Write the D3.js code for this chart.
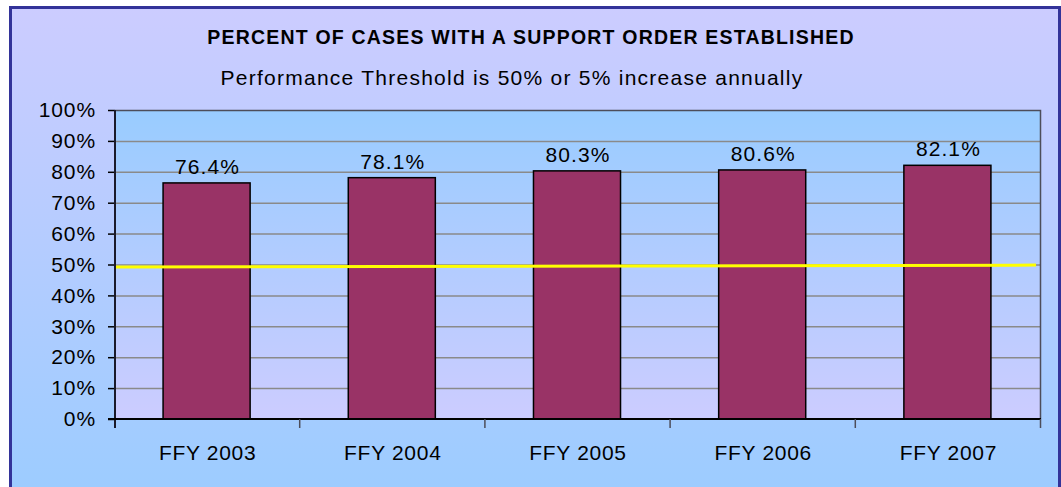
<!DOCTYPE html>
<html>
<head>
<meta charset="utf-8">
<script src="https://cdn.jsdelivr.net/npm/d3@7/dist/d3.min.js"></script>
<style>
  html, body { margin: 0; padding: 0; background: #fff; }
  svg { display: block; font-family: Arial, "Liberation Sans", sans-serif; }
</style>
</head>
<body>
<div id="chart"></div>
<script>
// chart data
const years = ['FFY 2003', 'FFY 2004', 'FFY 2005', 'FFY 2006', 'FFY 2007'];
const percents = [76.4, 78.1, 80.3, 80.6, 82.1];
const thresholdEnds = [49.2, 49.8];
const yTicks = [0, 10, 20, 30, 40, 50, 60, 70, 80, 90, 100];
const titleText = 'PERCENT OF CASES WITH A SUPPORT ORDER ESTABLISHED';
const subtitleText = 'Performance Threshold is 50% or 5% increase annually';

const width = 1061, height = 487;
const plot = {left: 115, right: 1041, top: 110, bottom: 419};
const labelSize = 21;

const svg = d3.select('#chart').append('svg')
  .attr('width', width)
  .attr('height', height);

const defs = svg.append('defs');
const outerGrad = defs.append('linearGradient')
  .attr('id', 'outerGrad').attr('x1', 0).attr('y1', 0).attr('x2', 0).attr('y2', 1);
outerGrad.append('stop').attr('offset', '0%').attr('stop-color', '#ccccff');
outerGrad.append('stop').attr('offset', '100%').attr('stop-color', '#99ccff');

const plotGrad = defs.append('linearGradient')
  .attr('id', 'plotGrad').attr('x1', 0).attr('y1', 0).attr('x2', 0).attr('y2', 1);
plotGrad.append('stop').attr('offset', '0%').attr('stop-color', '#99ccff');
plotGrad.append('stop').attr('offset', '100%').attr('stop-color', '#ccccff');

// outer frame
svg.append('rect')
  .attr('x', 10.5).attr('y', 7.5)
  .attr('width', 1049).attr('height', 520)
  .attr('fill', 'url(#outerGrad)')
  .attr('stroke', '#333399')
  .attr('stroke-width', 3);

// titles
svg.append('text')
  .attr('x', 531).attr('y', 44)
  .attr('text-anchor', 'middle')
  .attr('font-size', 19.5).attr('font-weight', 'bold')
  .attr('letter-spacing', '1.2px')
  .attr('fill', '#000')
  .text(titleText);

svg.append('text')
  .attr('x', 512).attr('y', 85)
  .attr('text-anchor', 'middle')
  .attr('font-size', labelSize)
  .attr('letter-spacing', '1.25px')
  .attr('fill', '#000')
  .text(subtitleText);

// scales
const xScale = d3.scaleBand()
  .domain(years)
  .range([plot.left, plot.right])
  .paddingInner(0.53)
  .paddingOuter(0.265);

const yScale = d3.scaleLinear()
  .domain([0, 100])
  .range([plot.bottom, plot.top]);

// plot background
svg.append('rect')
  .attr('x', plot.left).attr('y', plot.top)
  .attr('width', plot.right - plot.left)
  .attr('height', plot.bottom - plot.top)
  .attr('fill', 'url(#plotGrad)');

// gridlines
svg.append('g')
  .selectAll('line')
  .data(yTicks.filter(d => d > 0 && d < 100))
  .enter().append('line')
  .attr('x1', plot.left).attr('x2', plot.right)
  .attr('y1', d => yScale(d) + 0.5).attr('y2', d => yScale(d) + 0.5)
  .attr('stroke', '#8a8a8a')
  .attr('stroke-width', 1.5);

// plot border (top and right)
svg.append('path')
  .attr('d', `M${plot.left},${plot.top + 0.5}H${plot.right - 0.5}V${plot.bottom}`)
  .attr('fill', 'none')
  .attr('stroke', '#4d4d5a')
  .attr('stroke-width', 1.5);

// bars
svg.append('g')
  .selectAll('rect')
  .data(percents)
  .enter().append('rect')
  .attr('x', (d, i) => xScale(years[i]) - 1)
  .attr('y', d => yScale(d))
  .attr('width', xScale.bandwidth())
  .attr('height', d => yScale(0) - yScale(d))
  .attr('fill', '#993366')
  .attr('stroke', '#000')
  .attr('stroke-width', 1.5);

// value labels
svg.append('g')
  .selectAll('text')
  .data(percents)
  .enter().append('text')
  .attr('x', (d, i) => xScale(years[i]) + xScale.bandwidth() / 2)
  .attr('y', d => yScale(d) - 9)
  .attr('text-anchor', 'middle')
  .attr('font-size', labelSize)
  .attr('letter-spacing', '1.1px')
  .attr('fill', '#000')
  .text(d => d.toFixed(1) + '%');

// threshold line
const tScale = d3.scaleLinear().domain([0, 1]).range([plot.left, plot.right - 5]);
svg.append('line')
  .attr('x1', tScale(0)).attr('x2', tScale(1))
  .attr('y1', yScale(thresholdEnds[0])).attr('y2', yScale(thresholdEnds[1]))
  .attr('stroke', '#ffff00')
  .attr('stroke-width', 3);

// y axis
const yAxis = d3.axisLeft(yScale)
  .tickValues(yTicks)
  .tickSize(7)
  .tickPadding(12)
  .tickFormat(d => d + '%');

const yG = svg.append('g')
  .attr('transform', `translate(${plot.left},0)`)
  .call(yAxis);
yG.select('.domain').remove();
yG.selectAll('.tick line').attr('stroke', '#000').attr('stroke-width', 1.5);
yG.selectAll('.tick text')
  .attr('font-size', labelSize)
  .attr('letter-spacing', '0.9px')
  .attr('font-family', 'Arial, "Liberation Sans", sans-serif')
  .attr('fill', '#000');
yG.append('line')
  .attr('x1', 0).attr('x2', 0)
  .attr('y1', plot.top).attr('y2', plot.bottom + 9)
  .attr('stroke', '#1a1a2a').attr('stroke-width', 2);

// x axis
const bounds = d3.range(years.length + 1).map(i => plot.left + i * (plot.right - plot.left) / years.length);
svg.append('line')
  .attr('x1', plot.left - 7).attr('x2', plot.right)
  .attr('y1', plot.bottom).attr('y2', plot.bottom)
  .attr('stroke', '#000').attr('stroke-width', 2);
svg.append('g')
  .selectAll('line')
  .data(bounds.slice(1))
  .enter().append('line')
  .attr('x1', d => d - 0.5).attr('x2', d => d - 0.5)
  .attr('y1', plot.bottom).attr('y2', plot.bottom + 9)
  .attr('stroke', '#4d4d5a').attr('stroke-width', 1.5);

svg.append('g')
  .selectAll('text')
  .data(years)
  .enter().append('text')
  .attr('x', d => xScale(d) + xScale.bandwidth() / 2)
  .attr('y', 460)
  .attr('text-anchor', 'middle')
  .attr('font-size', labelSize)
  .attr('letter-spacing', '0.7px')
  .attr('fill', '#000')
  .text(d => d);
</script>
</body>
</html>
